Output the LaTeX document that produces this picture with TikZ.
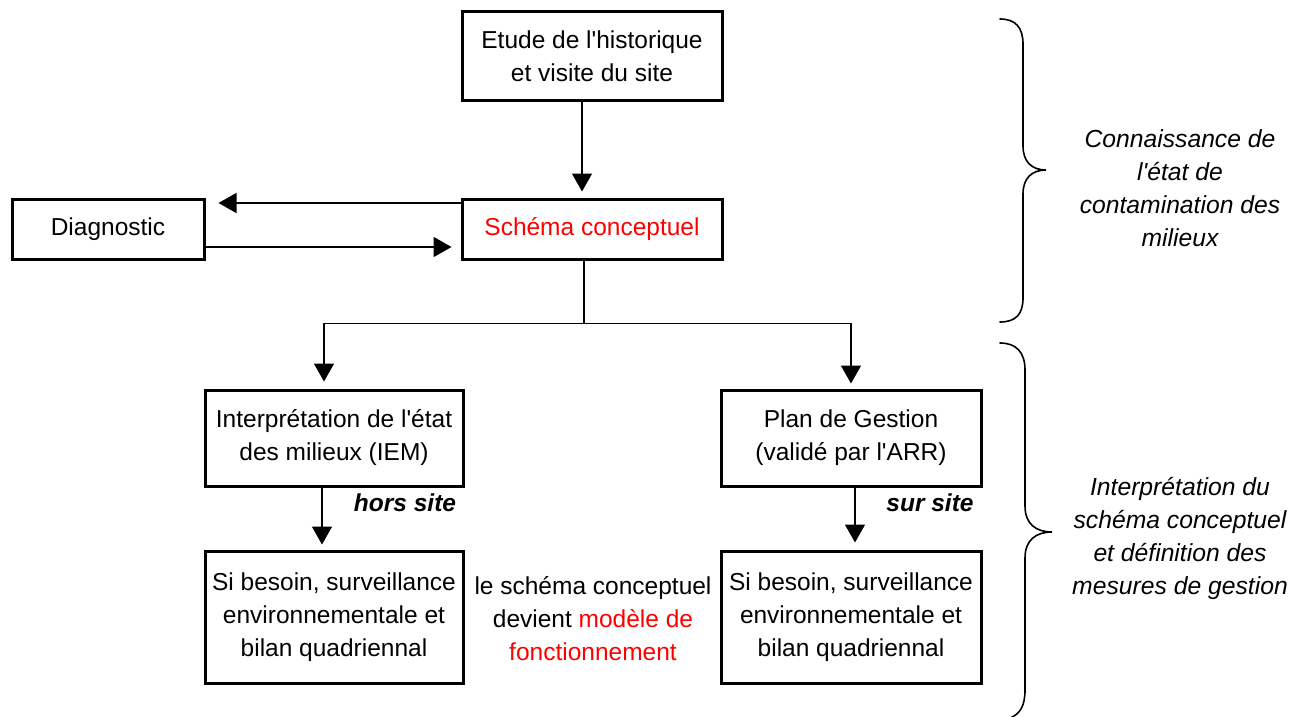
\documentclass[tikz,border=0pt]{standalone}
\usepackage{fontspec}
\setmainfont{Liberation Sans}[Ligatures=TeXOff]
\usetikzlibrary{arrows.meta,calc}

\tikzset{
  box/.style={draw, line width=3pt, align=center, inner sep=0pt,
    font=\fontsize{24.5}{33}\selectfont},
  note/.style={align=center, inner sep=0pt,
    font=\fontsize{24.5}{33}\selectfont},
  side/.style={align=center, inner sep=0pt,
    font=\fontsize{24.7}{33}\selectfont\itshape},
  conn/.style={line width=1.5pt},
  arr/.style={conn, -{Triangle[length=18pt,width=20pt]}},
  brace/.style={line width=1.6pt, line cap=round},
}

\begin{document}
\begin{tikzpicture}[x={(1pt,0)}, y={(0,-1pt)}]
\useasboundingbox (0,0) rectangle (1293,717);

% boxes
\node[box, minimum width=260pt, minimum height=88pt] (etude) at (592,56)
  {Etude de l'historique\\et visite du site};
\node[box, minimum width=260pt, minimum height=60pt, text=red] (schema) at (592,229)
  {Schéma conceptuel};
\node[box, minimum width=192pt, minimum height=60pt] (diag) at (108,229)
  {Diagnostic};
\node[box, minimum width=258pt, minimum height=96pt] (iem) at (334,438)
  {Interprétation de l'état\\des milieux (IEM)};
\node[box, minimum width=260pt, minimum height=96pt] (plan) at (851,438)
  {Plan de Gestion\\(validé par l'ARR)};
\node[box, minimum width=258pt, minimum height=132pt] (sb1) at (334,617)
  {Si besoin, surveillance\\environnementale et\\bilan quadriennal};
\node[box, minimum width=260pt, minimum height=132pt] (sb2) at (851,617)
  {Si besoin, surveillance\\environnementale et\\bilan quadriennal};

% free texts
\node[note] (mid) at (593,619)
  {le schéma conceptuel\\devient \textcolor{red}{modèle de}\\\textcolor{red}{fonctionnement}};
\node[note, font=\fontsize{24.5}{33}\selectfont\bfseries\itshape] (hors) at (405,503) {hors site};
\node[note, font=\fontsize{24.5}{33}\selectfont\bfseries\itshape] (sur) at (930,503) {sur site};
\node[side] (know) at (1180,188)
  {Connaissance de\\l'état de\\contamination des\\milieux};
\node[side] (interp) at (1180,538)
  {Interprétation du\\schéma conceptuel\\et définition des\\mesures de gestion};

% connectors
\draw[arr, shorten >=6pt] ($(etude.south)+(-10,0)$) -- ($(schema.north)+(-10,0)$);
\draw[arr, shorten >=13pt] ($(schema.west)+(0,-26)$) -- ($(diag.east)+(0,-26)$);
\draw[arr, shorten >=9pt] ($(diag.east)+(0,18)$) -- ($(schema.west)+(0,18)$);

\coordinate (split) at ($(schema.south)+(-8,63)$);
\draw[conn] ($(schema.south)+(-8,0)$) -- (split);
\draw[arr, shorten >=7pt] (split) -| ($(iem.north)+(-10,0)$);
\draw[arr, shorten >=5pt] (split) -| ($(plan.north)+(0,0)$);

\draw[arr, shorten >=5pt] ($(iem.south)+(-12,0)$) -- ($(sb1.north)+(-12,0)$);
\draw[arr, shorten >=7pt] ($(plan.south)+(4,0)$) -- ($(sb2.north)+(4,0)$);

% braces
\draw[brace] (1000,19) .. controls (1016,19) and (1023,28) .. (1023,44)
  -- (1023,146) .. controls (1023,162) and (1032,170) .. (1046,170)
  .. controls (1032,170) and (1023,178) .. (1023,194)
  -- (1023,298) .. controls (1023,314) and (1016,322) .. (1000,322);
\draw[brace] (1000,343) .. controls (1016,343) and (1025,352) .. (1025,370)
  -- (1025,506) .. controls (1025,524) and (1036,532) .. (1052,532)
  .. controls (1036,532) and (1025,540) .. (1025,558)
  -- (1025,690) .. controls (1025,706) and (1020,714) .. (1010,718);
\end{tikzpicture}
\end{document}
